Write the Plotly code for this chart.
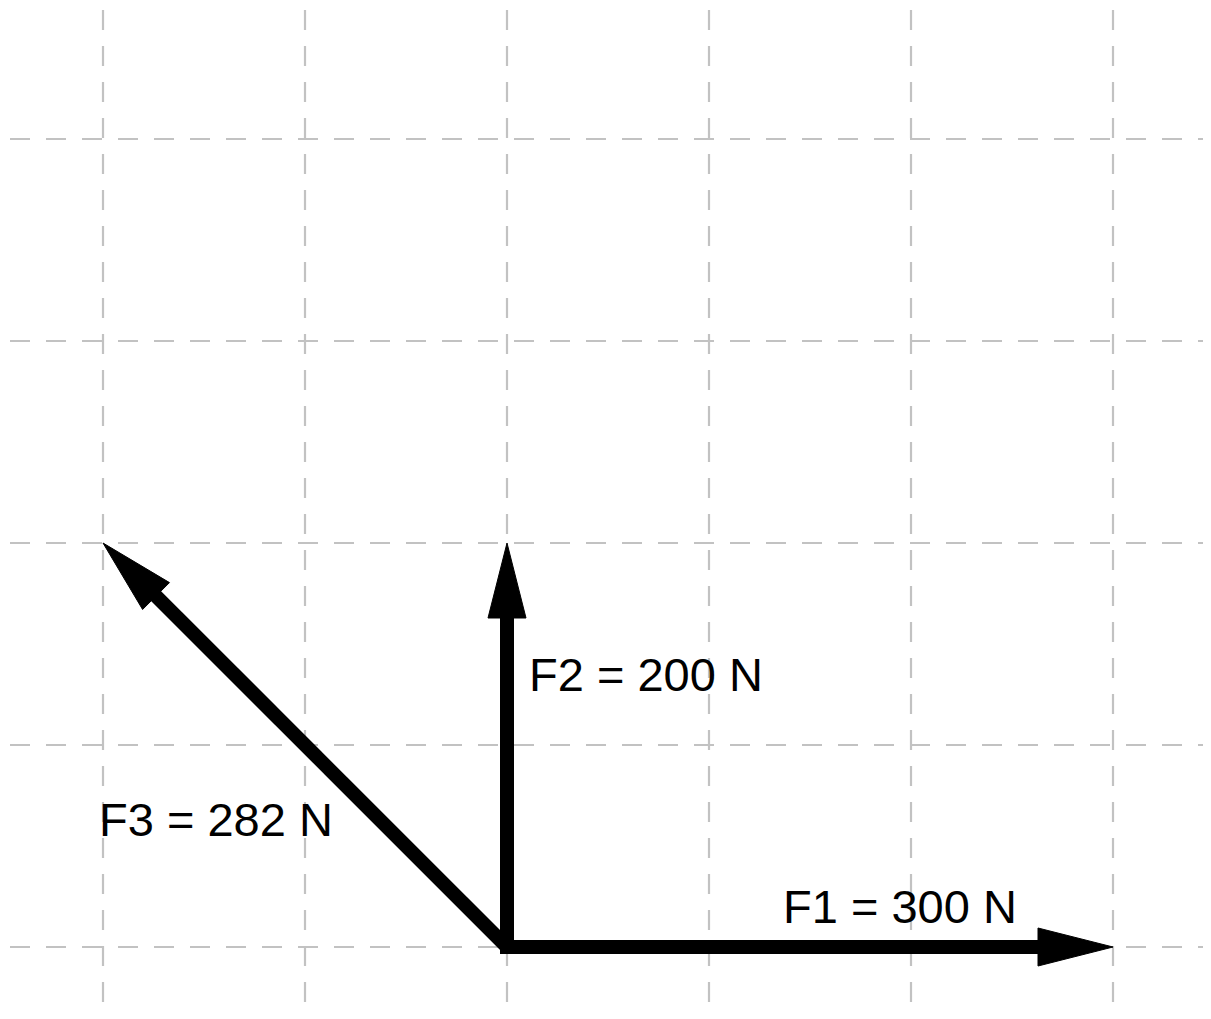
import numpy as np
import plotly.graph_objects as go

# ---- data (Newtons) ----
names = ["F1", "F2", "F3"]
fx = [300, 0, -200]
fy = [0, 200, 200]
magnitudes = [300, 200, 282]
grid_x = [-200, -100, 0, 100, 200, 300]
grid_y = [0, 100, 200, 300, 400]

# ---- layout constants ----
PAGE = 8                      # default body margin of the html page
W, H = 1211 - PAGE, 1019 - PAGE
PX = 2.02                     # pixels per Newton
OX, OY = 507 - PAGE, 947 - PAGE   # origin pixel inside the figure
x_range = [(0 - OX) / PX, (W - OX) / PX]
y_range = [(OY - H) / PX, (OY - 0) / PX]

def px2x(p):                  # p: pixel in the screenshot
    return (p - PAGE - OX) / PX

def px2y(p):
    return (OY - (p - PAGE)) / PX

head_len = 75 / PX
head_half = 19 / PX
shaft_w = 14
axis_ext = (shaft_w / 2) / PX   # extend axis-aligned shafts to close the corner

# label anchors (screenshot pixel positions) and alignment
label_pos = [(900, 906, "center"), (527, 674, "left"), (97, 819, "left")]

fig = go.Figure()

grid_style = dict(color="#c2c2c2", width=2.2, dash="20px,16px")
shapes = []
for gx in grid_x:
    shapes.append(dict(type="line", xref="x", yref="y", x0=gx, x1=gx,
                       y0=px2y(10), y1=px2y(1012), layer="below", line=grid_style))
for gy in grid_y:
    shapes.append(dict(type="line", xref="x", yref="y", y0=gy, y1=gy,
                       x0=px2x(10), x1=px2x(1209), layer="below", line=grid_style))

# vectors
for name, vx, vy in zip(names, fx, fy):
    v = np.array([vx, vy], dtype=float)
    u = v / np.linalg.norm(v)
    n = np.array([-u[1], u[0]])
    base = v - u * head_len
    start = np.zeros(2)
    if vx == 0 or vy == 0:
        start = -u * axis_ext
    fig.add_trace(go.Scatter(x=[start[0], base[0] + u[0] * 2], y=[start[1], base[1] + u[1] * 2],
                             mode="lines", line=dict(color="black", width=shaft_w),
                             showlegend=False, hoverinfo="skip"))
    c1 = base + n * head_half
    c2 = base - n * head_half
    fig.add_trace(go.Scatter(x=[v[0], c1[0], c2[0], v[0]], y=[v[1], c1[1], c2[1], v[1]],
                             mode="lines", fill="toself", fillcolor="black",
                             line=dict(color="black", width=1),
                             showlegend=False, hoverinfo="skip"))

annotations = []
for name, mag, (lx, ly, al) in zip(names, magnitudes, label_pos):
    annotations.append(dict(x=px2x(lx), y=px2y(ly), xref="x", yref="y",
                            text=f"{name} = {mag} N", showarrow=False,
                            xanchor=al, yanchor="middle",
                            font=dict(family="Liberation Sans, Arial, sans-serif",
                                      size=47, color="black")))

fig.update_layout(
    width=W, height=H,
    margin=dict(l=0, r=0, t=0, b=0),
    paper_bgcolor="white", plot_bgcolor="white",
    shapes=shapes, annotations=annotations,
    xaxis=dict(range=x_range, visible=False, fixedrange=True),
    yaxis=dict(range=y_range, visible=False, fixedrange=True),
    showlegend=False,
)

fig.write_html("out.html")
